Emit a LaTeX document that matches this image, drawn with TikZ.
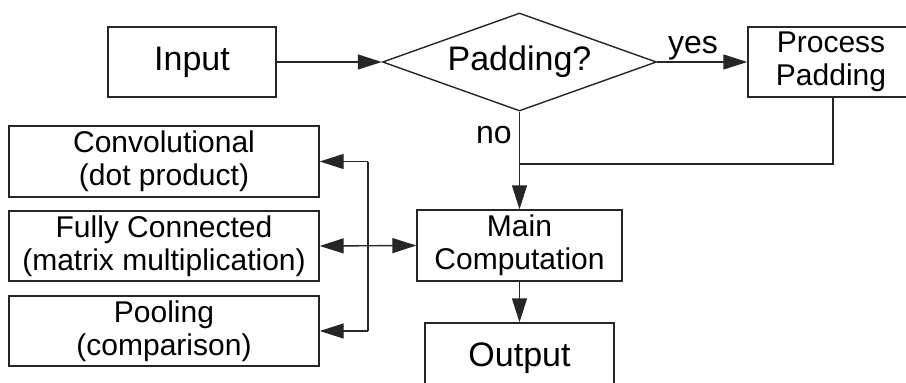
\documentclass[tikz,border=0pt]{standalone}
\usepackage{fontspec}
\setmainfont{Liberation Sans}
\usetikzlibrary{arrows.meta,shapes.geometric}

\tikzset{
  ink/.style={draw=black!85, line width=1.4pt},
  box/.style={ink, rectangle, inner sep=0pt, align=center,
    font=\fontsize{30}{33}\selectfont},
  bigbox/.style={box, font=\fontsize{34}{38}\selectfont},
  decision/.style={ink, diamond, inner sep=0pt, aspect=2.8,
    minimum width=274pt, minimum height=98pt,
    font=\fontsize{34}{38}\selectfont},
  lbl/.style={inner sep=0pt, font=\fontsize{32}{36}\selectfont},
  arr/.style={ink, -{Triangle[length=24pt,width=15pt]}},
  dbl/.style={ink, {Triangle[length=24pt,width=15pt]}-{Triangle[length=24pt,width=15pt]}}
}

\begin{document}
\begin{tikzpicture}[x=1pt, y=-1pt]
  \useasboundingbox (0,0) rectangle (906,383);
  \clip (0,0) rectangle (906,383);
  \fill[white] (0,0) rectangle (906,383);

  % upper row: input, padding decision, padding step
  \node[bigbox, minimum width=168pt, minimum height=70pt] (in) at (192,62) {Input};
  \node[decision] (pad) at (519.5,62) {Padding?};
  \node[box, minimum width=166pt, minimum height=70pt] (pp) at (831,62) {Process\\Padding};

  % operation kinds on the left
  \node[box, minimum width=310pt, minimum height=71pt] (conv) at (164,161.5) {Convolutional\\(dot product)};
  \node[box, minimum width=310pt, minimum height=70pt] (fc) at (164,246) {Fully Connected\\(matrix multiplication)};
  \node[box, minimum width=310pt, minimum height=70pt] (pool) at (164,331) {Pooling\\(comparison)};

  % main path
  \node[box, minimum width=205pt, minimum height=71pt] (main) at (519.5,245.5) {Main\\Computation};
  \node[bigbox, minimum width=189pt, minimum height=70pt] (out) at (519.5,358) {Output};

  % branch labels
  \node[lbl, anchor=base] (yes) at (693,53) {yes};
  \node[lbl, anchor=base] (no) at (494,143) {no};

  % helper points for the elbow connectors
  \coordinate (merge) at (519.5,164);
  \coordinate (ppdrop) at (833,164);
  \coordinate (bustop) at (368,161.5);
  \coordinate (busbot) at (368,331);

  % connectors
  \draw[arr] (in) -- (pad.west);
  \draw[arr] (pad.east) -- (pp.west);
  \draw[arr] (pad.south) -- (main.north);
  \draw[ink] (pp.south -| ppdrop) -- (ppdrop) -- (merge);
  \draw[dbl] (fc.east) -- (main.west);
  \draw[ink] (bustop) -- (busbot);
  \draw[arr] (bustop) -- (conv.east);
  \draw[arr] (busbot) -- (pool.east);
  \draw[arr] (main.south) -- (out.north);
\end{tikzpicture}
\end{document}
